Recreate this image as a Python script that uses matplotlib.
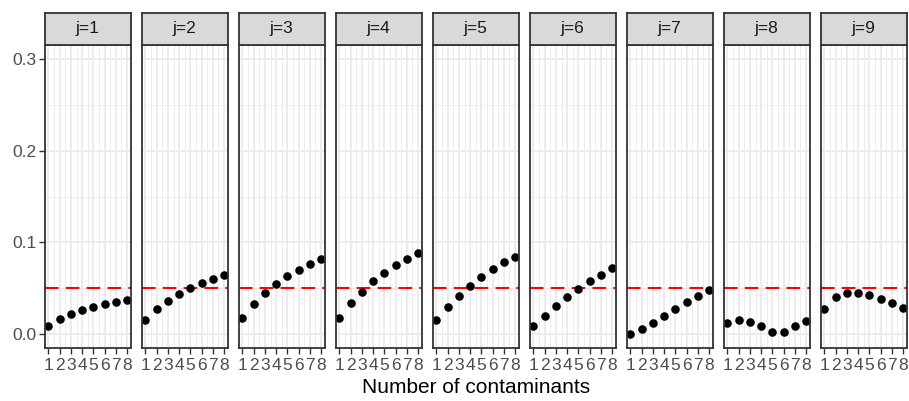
import matplotlib
matplotlib.use("Agg")
import matplotlib.pyplot as plt

plt.rcParams['font.family'] = ['Liberation Sans', 'DejaVu Sans']

contaminants = [1, 2, 3, 4, 5, 6, 7, 8]
panel_labels = ["j=1", "j=2", "j=3", "j=4", "j=5", "j=6", "j=7", "j=8", "j=9"]
y_ticks = [0.0, 0.1, 0.2, 0.3]
y_tick_labels = ["0.0", "0.1", "0.2", "0.3"]
threshold = 0.05

j1 = [0.009, 0.0163, 0.0217, 0.0261, 0.0297, 0.0326, 0.0351, 0.037]
j2 = [0.0152, 0.0272, 0.0366, 0.0442, 0.0504, 0.0558, 0.0601, 0.0641]
j3 = [0.0181, 0.0333, 0.0453, 0.0547, 0.063, 0.0699, 0.0761, 0.0815]
j4 = [0.0181, 0.0337, 0.0464, 0.0576, 0.067, 0.0754, 0.0822, 0.088]
j5 = [0.0156, 0.0293, 0.042, 0.0529, 0.0627, 0.071, 0.0783, 0.0844]
j6 = [0.009, 0.0199, 0.0304, 0.0402, 0.0493, 0.0576, 0.0649, 0.0717]
j7 = [0.0004, 0.0054, 0.0123, 0.0199, 0.0275, 0.0351, 0.042, 0.0482]
j8 = [0.0127, 0.0152, 0.013, 0.0087, 0.0029, 0.0029, 0.009, 0.0145]
j9 = [0.0275, 0.0402, 0.0446, 0.0446, 0.0424, 0.0384, 0.0341, 0.029]
series = [j1, j2, j3, j4, j5, j6, j7, j8, j9]

W, H = 909, 401
fig = plt.figure(figsize=(W / 100, H / 100), dpi=100)

panel_left0 = 44.5
panel_step = 97.0
panel_w = 86.5
panel_top = 45.0
panel_bottom = 348.0
strip_top = 12.7

border_col = "#333333"
grid_col = "#EBEBEB"
tick_fs = 12.5

for k, (lab, vals) in enumerate(zip(panel_labels, series)):
    left = panel_left0 + panel_step * k
    ax = fig.add_axes([left / W, (H - panel_bottom) / H, panel_w / W,
                       (panel_bottom - panel_top) / H])
    ax.set_xlim(0.65, 8.35)
    ax.set_ylim(-0.015, 0.315)
    ax.set_facecolor("white")
    for x in contaminants:
        ax.axvline(x, color=grid_col, lw=1.3, zorder=0)
    for x in [1.5, 2.5, 3.5, 4.5, 5.5, 6.5, 7.5]:
        ax.axvline(x, color=grid_col, lw=0.65, zorder=0)
    for y in y_ticks:
        ax.axhline(y, color=grid_col, lw=1.3, zorder=0)
    for y in [0.05, 0.15, 0.25]:
        ax.axhline(y, color=grid_col, lw=0.65, zorder=0)
    ax.axhline(threshold, color="#FF0000", lw=1.5, dashes=(6.5, 3.5), zorder=2)
    ax.scatter(contaminants, vals, s=38, color="black", zorder=3, linewidths=0)
    ax.set_xticks(contaminants)
    ax.set_xticklabels([str(c) for c in contaminants])
    ax.tick_params(axis='x', length=4.1, width=1.0, color=border_col,
                   labelsize=tick_fs, labelcolor="#4D4D4D", pad=2.8)
    if k == 0:
        ax.set_yticks(y_ticks)
        ax.set_yticklabels(y_tick_labels)
        ax.tick_params(axis='y', length=4.1, width=1.0, color=border_col,
                       labelsize=tick_fs, labelcolor="#4D4D4D", pad=1.5)
    else:
        ax.set_yticks([])
    for sp in ax.spines.values():
        sp.set_color(border_col)
        sp.set_linewidth(1.3)
        sp.set_zorder(5)
    sax = fig.add_axes([left / W, (H - panel_top) / H, panel_w / W,
                        (panel_top - strip_top) / H])
    sax.set_facecolor("#D9D9D9")
    sax.set_xticks([])
    sax.set_yticks([])
    for sp in sax.spines.values():
        sp.set_color(border_col)
        sp.set_linewidth(1.3)
    sax.text(0.5, 0.5, lab, ha="center", va="center", fontsize=tick_fs,
             color="#1A1A1A", transform=sax.transAxes)

fig.text(475.6 / W, 1 - 387.5 / H, "Number of contaminants", ha="center",
         va="center", fontsize=15, color="black")

fig.savefig("out.png", dpi=100)
